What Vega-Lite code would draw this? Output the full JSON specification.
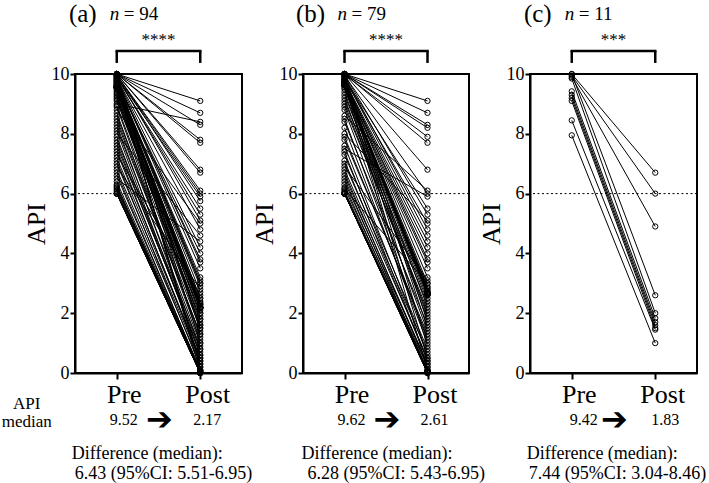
{
  "$schema": "https://vega.github.io/schema/vega-lite/v6.json",
  "background": "white",
  "padding": {"left": 0, "top": 0, "right": 0, "bottom": 0},
  "config": {
    "font": "Liberation Serif",
    "view": {"stroke": "black", "strokeWidth": 2},
    "axis": {"domainColor": "black", "domainWidth": 2, "tickColor": "black", "tickWidth": 2, "labelColor": "black", "titleColor": "black", "grid": false, "labelFont": "Liberation Serif", "titleFont": "Liberation Serif", "titleFontWeight": "normal"},
    "text": {"font": "Liberation Serif", "color": "black"},
    "concat": {"spacing": 61}
  },
  "bounds": "flush",
  "datasets": {
    "a": [
      {"id":1,"Pre":10,"Post":8.3},{"id":2,"Pre":10,"Post":9.1},{"id":3,"Pre":10,"Post":6.8},{"id":4,"Pre":10,"Post":8.7},{"id":5,"Pre":10,"Post":6.7},{"id":6,"Pre":10,"Post":1.4},{"id":7,"Pre":10,"Post":7.7},{"id":8,"Pre":10,"Post":7.8},
      {"id":9,"Pre":9.98,"Post":5.75},{"id":10,"Pre":9.97,"Post":6.1},{"id":11,"Pre":9.95,"Post":5.1},{"id":12,"Pre":9.95,"Post":6.0},{"id":13,"Pre":9.93,"Post":1.5},{"id":14,"Pre":9.9,"Post":5.9},{"id":15,"Pre":9.9,"Post":5.3},{"id":16,"Pre":9.88,"Post":5.5},
      {"id":17,"Pre":9.85,"Post":4.2},{"id":18,"Pre":9.85,"Post":4.8},{"id":19,"Pre":9.83,"Post":3.7},{"id":20,"Pre":9.8,"Post":1.0},{"id":21,"Pre":9.8,"Post":3.5},{"id":22,"Pre":9.78,"Post":0.03},{"id":23,"Pre":9.75,"Post":3.8},{"id":24,"Pre":9.75,"Post":4.0},
      {"id":25,"Pre":9.72,"Post":3.0},{"id":26,"Pre":9.7,"Post":3.2},{"id":27,"Pre":9.7,"Post":2.7},{"id":28,"Pre":9.68,"Post":3.1},{"id":29,"Pre":9.65,"Post":0.2},{"id":30,"Pre":9.65,"Post":3.0},{"id":31,"Pre":9.63,"Post":0.3},{"id":32,"Pre":9.62,"Post":2.9},
      {"id":33,"Pre":9.6,"Post":2.35},{"id":34,"Pre":9.6,"Post":2.5},{"id":35,"Pre":9.59,"Post":2.25},{"id":36,"Pre":9.58,"Post":2.5},{"id":37,"Pre":9.57,"Post":2.2},{"id":38,"Pre":9.57,"Post":2.4},{"id":39,"Pre":9.56,"Post":2.3},{"id":40,"Pre":9.56,"Post":2.3},
      {"id":41,"Pre":9.55,"Post":2.18},{"id":42,"Pre":9.55,"Post":2.2},{"id":43,"Pre":9.55,"Post":2.17},{"id":44,"Pre":9.54,"Post":2.2},{"id":45,"Pre":9.54,"Post":2.17},{"id":46,"Pre":9.54,"Post":2.2},{"id":47,"Pre":9.54,"Post":2.17},{"id":48,"Pre":9.5,"Post":2.17},
      {"id":49,"Pre":9.45,"Post":1.9},{"id":50,"Pre":9.4,"Post":2.1},{"id":51,"Pre":9.35,"Post":1.7},{"id":52,"Pre":9.3,"Post":2.0},{"id":53,"Pre":9.25,"Post":1.6},{"id":54,"Pre":9.2,"Post":2.0},{"id":55,"Pre":9.15,"Post":1.8},{"id":56,"Pre":9.1,"Post":1.8},
      {"id":57,"Pre":9.0,"Post":8.4},{"id":58,"Pre":8.95,"Post":1.6},{"id":59,"Pre":8.9,"Post":1.2},{"id":60,"Pre":8.8,"Post":5.0},{"id":61,"Pre":8.7,"Post":1.1},{"id":62,"Pre":8.6,"Post":1.5},{"id":63,"Pre":8.5,"Post":1.3},{"id":64,"Pre":8.4,"Post":1.3},
      {"id":65,"Pre":8.3,"Post":0.8},{"id":66,"Pre":8.2,"Post":1.0},{"id":67,"Pre":8.1,"Post":0.6},{"id":68,"Pre":8.0,"Post":4.6},{"id":69,"Pre":7.9,"Post":0.6},{"id":70,"Pre":7.8,"Post":0.9},{"id":71,"Pre":7.7,"Post":0.7},{"id":72,"Pre":7.6,"Post":0.8},
      {"id":73,"Pre":7.5,"Post":0.4},{"id":74,"Pre":7.4,"Post":0.5},{"id":75,"Pre":7.3,"Post":2.6},{"id":76,"Pre":7.2,"Post":0.5},{"id":77,"Pre":7.1,"Post":0.2},{"id":78,"Pre":7.0,"Post":0.4},{"id":79,"Pre":6.9,"Post":2.8},{"id":80,"Pre":6.8,"Post":0.3},
      {"id":81,"Pre":6.7,"Post":0.06},{"id":82,"Pre":6.6,"Post":0.1},{"id":83,"Pre":6.5,"Post":4.4},{"id":84,"Pre":6.4,"Post":0.1},{"id":85,"Pre":6.3,"Post":0.02},{"id":86,"Pre":6.25,"Post":0.08},{"id":87,"Pre":6.2,"Post":0.04},{"id":88,"Pre":6.15,"Post":0.05},
      {"id":89,"Pre":6.1,"Post":0},{"id":90,"Pre":6.05,"Post":0},{"id":91,"Pre":6.0,"Post":0},{"id":92,"Pre":6.0,"Post":0},{"id":93,"Pre":6.0,"Post":0},{"id":94,"Pre":6.0,"Post":0}
    ],
    "b": [
      {"id":1,"Pre":10,"Post":8.2},{"id":2,"Pre":10,"Post":9.1},{"id":3,"Pre":10,"Post":6.8},{"id":4,"Pre":10,"Post":8.7},{"id":5,"Pre":10,"Post":1.7},{"id":6,"Pre":10,"Post":8.3},{"id":7,"Pre":10,"Post":7.7},{"id":8,"Pre":9.98,"Post":7.9},
      {"id":9,"Pre":9.97,"Post":5.3},{"id":10,"Pre":9.95,"Post":6.0},{"id":11,"Pre":9.93,"Post":4.8},{"id":12,"Pre":9.9,"Post":0.9},{"id":13,"Pre":9.88,"Post":4.6},{"id":14,"Pre":9.85,"Post":5.5},{"id":15,"Pre":9.83,"Post":5.0},{"id":16,"Pre":9.8,"Post":1.5},
      {"id":17,"Pre":9.8,"Post":3.8},{"id":18,"Pre":9.78,"Post":4.4},{"id":19,"Pre":9.76,"Post":3.2},{"id":20,"Pre":9.75,"Post":4.2},{"id":21,"Pre":9.73,"Post":0.5},{"id":22,"Pre":9.72,"Post":4.0},{"id":23,"Pre":9.7,"Post":3.5},{"id":24,"Pre":9.7,"Post":3.7},
      {"id":25,"Pre":9.69,"Post":2.85},{"id":26,"Pre":9.68,"Post":3.0},{"id":27,"Pre":9.67,"Post":2.7},{"id":28,"Pre":9.66,"Post":0.1},{"id":29,"Pre":9.65,"Post":2.7},{"id":30,"Pre":9.65,"Post":2.9},{"id":31,"Pre":9.64,"Post":2.75},{"id":32,"Pre":9.64,"Post":2.8},
      {"id":33,"Pre":9.63,"Post":2.64},{"id":34,"Pre":9.63,"Post":2.68},{"id":35,"Pre":9.63,"Post":2.61},{"id":36,"Pre":9.62,"Post":2.66},{"id":37,"Pre":9.62,"Post":2.61},{"id":38,"Pre":9.62,"Post":2.65},{"id":39,"Pre":9.62,"Post":2.62},{"id":40,"Pre":9.62,"Post":2.63},
      {"id":41,"Pre":9.55,"Post":2.2},{"id":42,"Pre":9.5,"Post":2.5},{"id":43,"Pre":9.4,"Post":1.9},{"id":44,"Pre":9.3,"Post":2.4},{"id":45,"Pre":9.2,"Post":1.8},{"id":46,"Pre":9.1,"Post":2.3},{"id":47,"Pre":9.0,"Post":2.0},{"id":48,"Pre":8.9,"Post":2.1},
      {"id":49,"Pre":8.8,"Post":1.4},{"id":50,"Pre":8.6,"Post":6.1},{"id":51,"Pre":8.5,"Post":1.1},{"id":52,"Pre":8.4,"Post":1.6},{"id":53,"Pre":8.2,"Post":1.0},{"id":54,"Pre":8.0,"Post":5.1},{"id":55,"Pre":7.9,"Post":1.2},{"id":56,"Pre":7.8,"Post":1.3},
      {"id":57,"Pre":7.6,"Post":0.6},{"id":58,"Pre":7.5,"Post":5.9},{"id":59,"Pre":7.4,"Post":0.4},{"id":60,"Pre":7.3,"Post":0.8},{"id":61,"Pre":7.1,"Post":0.4},{"id":62,"Pre":7.0,"Post":0.7},{"id":63,"Pre":6.9,"Post":3.1},{"id":64,"Pre":6.8,"Post":0.5},
      {"id":65,"Pre":6.7,"Post":0.2},{"id":66,"Pre":6.6,"Post":0.3},{"id":67,"Pre":6.5,"Post":0.08},{"id":68,"Pre":6.4,"Post":0.3},{"id":69,"Pre":6.3,"Post":0.06},{"id":70,"Pre":6.2,"Post":0.2},{"id":71,"Pre":6.15,"Post":3.0},{"id":72,"Pre":6.1,"Post":0.1},
      {"id":73,"Pre":6.05,"Post":0.05},{"id":74,"Pre":6.0,"Post":0.04},{"id":75,"Pre":6.0,"Post":0.03},{"id":76,"Pre":6.0,"Post":0.02},{"id":77,"Pre":6.0,"Post":0},{"id":78,"Pre":6.0,"Post":0},{"id":79,"Pre":6.0,"Post":0}
    ],
    "c": [
      {"id":1,"Pre":10,"Post":6.7},{"id":2,"Pre":9.95,"Post":6.0},{"id":3,"Pre":9.9,"Post":4.9},{"id":4,"Pre":10,"Post":2.6},{"id":5,"Pre":9.85,"Post":2.0},{"id":6,"Pre":9.42,"Post":1.83},
      {"id":7,"Pre":9.3,"Post":1.7},{"id":8,"Pre":9.2,"Post":1.6},{"id":9,"Pre":9.1,"Post":1.5},{"id":10,"Pre":8.45,"Post":1.45},{"id":11,"Pre":7.95,"Post":1.0}
    ]
  },
  "hconcat": [
    {
      "width": 167, "height": 299,
      "layer": [
        {"data": {"name": "a"}, "transform": [{"fold": ["Pre", "Post"], "as": ["time", "api"]}],
         "mark": {"type": "line", "color": "black", "strokeWidth": 1},
         "encoding": {
           "x": {"field": "time", "type": "nominal", "scale": {"type": "point", "domain": ["Pre", "Post"], "padding": 0.5}, "axis": {"title": null, "labelAngle": 0, "labelFontSize": 26, "tickSize": 6, "labelOffset": 7, "labelPadding": 2}},
           "y": {"field": "api", "type": "quantitative", "scale": {"domain": [0, 10], "nice": false, "zero": false}, "axis": {"title": "API", "titleFontSize": 26, "values": [0, 2, 4, 6, 8, 10], "labelFontSize": 18, "tickSize": 5, "labelPadding": 1, "titlePadding": 2}},
           "detail": {"field": "id", "type": "nominal"}}},
        {"data": {"name": "a"}, "transform": [{"fold": ["Pre", "Post"], "as": ["time", "api"]}],
         "mark": {"type": "point", "filled": false, "color": "black", "size": 28, "strokeWidth": 1, "opacity": 1},
         "encoding": {"x": {"field": "time", "type": "nominal"}, "y": {"field": "api", "type": "quantitative"}}},
        {"data": {"values": [{}]}, "mark": {"type": "rule", "strokeDash": [2, 2.5], "color": "black", "strokeWidth": 1}, "encoding": {"y": {"datum": 6}}},
        {"data": {"values": [{}]}, "mark": {"type": "rule", "color": "black", "strokeWidth": 2.5, "strokeCap": "square"}, "encoding": {"x": {"datum": "Pre"}, "x2": {"datum": "Post"}, "y": {"datum": 10.77}}},
        {"data": {"values": [{}]}, "mark": {"type": "rule", "color": "black", "strokeWidth": 2.5}, "encoding": {"x": {"datum": "Pre"}, "y": {"datum": 10.37}, "y2": {"datum": 10.77}}},
        {"data": {"values": [{}]}, "mark": {"type": "rule", "color": "black", "strokeWidth": 2.5}, "encoding": {"x": {"datum": "Post"}, "y": {"datum": 10.37}, "y2": {"datum": 10.77}}},
        {"data": {"values": [{}]}, "mark": {"type": "text", "text": "****", "fontSize": 17, "baseline": "alphabetic"}, "encoding": {"y": {"datum": 10.97}}},
        {"data": {"values": [{}]}, "mark": {"type": "text", "text": "(a)", "fontSize": 25, "baseline": "alphabetic", "align": "center", "dx": -34}, "encoding": {"x": {"datum": "Pre"}, "y": {"datum": 11.74}}},
        {"data": {"values": [{}]}, "mark": {"type": "text", "text": "n", "fontSize": 19, "fontStyle": "italic", "baseline": "alphabetic", "align": "left", "dx": -7}, "encoding": {"x": {"datum": "Pre"}, "y": {"datum": 11.8}}},
        {"data": {"values": [{}]}, "mark": {"type": "text", "text": "= 94", "fontSize": 19, "baseline": "alphabetic", "align": "left", "dx": 7}, "encoding": {"x": {"datum": "Pre"}, "y": {"datum": 11.8}}},
        {"data": {"values": [{}]}, "mark": {"type": "text", "text": "API\nmedian", "lineBreak": "\n", "lineHeight": 18, "fontSize": 17, "baseline": "middle", "align": "center", "dx": -90}, "encoding": {"x": {"datum": "Pre"}, "y": {"datum": -1.04}}},
        {"data": {"values": [{}]}, "mark": {"type": "text", "text": "9.52", "fontSize": 16, "baseline": "middle", "align": "center", "dx": 7}, "encoding": {"x": {"datum": "Pre"}, "y": {"datum": -1.57}}},
        {"data": {"values": [{}]}, "mark": {"type": "text", "text": "➔", "font": "DejaVu Sans", "fontSize": 32, "baseline": "middle", "align": "center", "dx": 1}, "encoding": {"y": {"datum": -1.57}}},
        {"data": {"values": [{}]}, "mark": {"type": "text", "text": "2.17", "fontSize": 16, "baseline": "middle", "align": "center", "dx": 7}, "encoding": {"x": {"datum": "Post"}, "y": {"datum": -1.57}}},
        {"data": {"values": [{}]}, "mark": {"type": "text", "text": "Difference (median):", "fontSize": 18, "baseline": "middle", "align": "left", "dx": -45}, "encoding": {"x": {"datum": "Pre"}, "y": {"datum": -2.71}}},
        {"data": {"values": [{}]}, "mark": {"type": "text", "text": "6.43 (95%CI: 5.51-6.95)", "fontSize": 18, "baseline": "middle", "align": "left", "dx": -42}, "encoding": {"x": {"datum": "Pre"}, "y": {"datum": -3.38}}}
      ]
    },
    {
      "width": 166, "height": 299,
      "layer": [
        {"data": {"name": "b"}, "transform": [{"fold": ["Pre", "Post"], "as": ["time", "api"]}],
         "mark": {"type": "line", "color": "black", "strokeWidth": 1},
         "encoding": {
           "x": {"field": "time", "type": "nominal", "scale": {"type": "point", "domain": ["Pre", "Post"], "padding": 0.5}, "axis": {"title": null, "labelAngle": 0, "labelFontSize": 26, "tickSize": 6, "labelOffset": 7, "labelPadding": 2}},
           "y": {"field": "api", "type": "quantitative", "scale": {"domain": [0, 10], "nice": false, "zero": false}, "axis": {"title": "API", "titleFontSize": 26, "values": [0, 2, 4, 6, 8, 10], "labelFontSize": 18, "tickSize": 5, "labelPadding": 1, "titlePadding": 2}},
           "detail": {"field": "id", "type": "nominal"}}},
        {"data": {"name": "b"}, "transform": [{"fold": ["Pre", "Post"], "as": ["time", "api"]}],
         "mark": {"type": "point", "filled": false, "color": "black", "size": 28, "strokeWidth": 1, "opacity": 1},
         "encoding": {"x": {"field": "time", "type": "nominal"}, "y": {"field": "api", "type": "quantitative"}}},
        {"data": {"values": [{}]}, "mark": {"type": "rule", "strokeDash": [2, 2.5], "color": "black", "strokeWidth": 1}, "encoding": {"y": {"datum": 6}}},
        {"data": {"values": [{}]}, "mark": {"type": "rule", "color": "black", "strokeWidth": 2.5, "strokeCap": "square"}, "encoding": {"x": {"datum": "Pre"}, "x2": {"datum": "Post"}, "y": {"datum": 10.77}}},
        {"data": {"values": [{}]}, "mark": {"type": "rule", "color": "black", "strokeWidth": 2.5}, "encoding": {"x": {"datum": "Pre"}, "y": {"datum": 10.37}, "y2": {"datum": 10.77}}},
        {"data": {"values": [{}]}, "mark": {"type": "rule", "color": "black", "strokeWidth": 2.5}, "encoding": {"x": {"datum": "Post"}, "y": {"datum": 10.37}, "y2": {"datum": 10.77}}},
        {"data": {"values": [{}]}, "mark": {"type": "text", "text": "****", "fontSize": 17, "baseline": "alphabetic"}, "encoding": {"y": {"datum": 10.97}}},
        {"data": {"values": [{}]}, "mark": {"type": "text", "text": "(b)", "fontSize": 25, "baseline": "alphabetic", "align": "center", "dx": -34}, "encoding": {"x": {"datum": "Pre"}, "y": {"datum": 11.74}}},
        {"data": {"values": [{}]}, "mark": {"type": "text", "text": "n", "fontSize": 19, "fontStyle": "italic", "baseline": "alphabetic", "align": "left", "dx": -7}, "encoding": {"x": {"datum": "Pre"}, "y": {"datum": 11.8}}},
        {"data": {"values": [{}]}, "mark": {"type": "text", "text": "= 79", "fontSize": 19, "baseline": "alphabetic", "align": "left", "dx": 7}, "encoding": {"x": {"datum": "Pre"}, "y": {"datum": 11.8}}},
        {"data": {"values": [{}]}, "mark": {"type": "text", "text": "9.62", "fontSize": 16, "baseline": "middle", "align": "center", "dx": 7}, "encoding": {"x": {"datum": "Pre"}, "y": {"datum": -1.57}}},
        {"data": {"values": [{}]}, "mark": {"type": "text", "text": "➔", "font": "DejaVu Sans", "fontSize": 32, "baseline": "middle", "align": "center", "dx": 1}, "encoding": {"y": {"datum": -1.57}}},
        {"data": {"values": [{}]}, "mark": {"type": "text", "text": "2.61", "fontSize": 16, "baseline": "middle", "align": "center", "dx": 7}, "encoding": {"x": {"datum": "Post"}, "y": {"datum": -1.57}}},
        {"data": {"values": [{}]}, "mark": {"type": "text", "text": "Difference (median):", "fontSize": 18, "baseline": "middle", "align": "left", "dx": -43}, "encoding": {"x": {"datum": "Pre"}, "y": {"datum": -2.71}}},
        {"data": {"values": [{}]}, "mark": {"type": "text", "text": "6.28 (95%CI: 5.43-6.95)", "fontSize": 18, "baseline": "middle", "align": "left", "dx": -37}, "encoding": {"x": {"datum": "Pre"}, "y": {"datum": -3.38}}}
      ]
    },
    {
      "width": 167, "height": 299,
      "layer": [
        {"data": {"name": "c"}, "transform": [{"fold": ["Pre", "Post"], "as": ["time", "api"]}],
         "mark": {"type": "line", "color": "black", "strokeWidth": 1},
         "encoding": {
           "x": {"field": "time", "type": "nominal", "scale": {"type": "point", "domain": ["Pre", "Post"], "padding": 0.5}, "axis": {"title": null, "labelAngle": 0, "labelFontSize": 26, "tickSize": 6, "labelOffset": 7, "labelPadding": 2}},
           "y": {"field": "api", "type": "quantitative", "scale": {"domain": [0, 10], "nice": false, "zero": false}, "axis": {"title": "API", "titleFontSize": 26, "values": [0, 2, 4, 6, 8, 10], "labelFontSize": 18, "tickSize": 5, "labelPadding": 1, "titlePadding": 2}},
           "detail": {"field": "id", "type": "nominal"}}},
        {"data": {"name": "c"}, "transform": [{"fold": ["Pre", "Post"], "as": ["time", "api"]}],
         "mark": {"type": "point", "filled": false, "color": "black", "size": 28, "strokeWidth": 1, "opacity": 1},
         "encoding": {"x": {"field": "time", "type": "nominal"}, "y": {"field": "api", "type": "quantitative"}}},
        {"data": {"values": [{}]}, "mark": {"type": "rule", "strokeDash": [2, 2.5], "color": "black", "strokeWidth": 1}, "encoding": {"y": {"datum": 6}}},
        {"data": {"values": [{}]}, "mark": {"type": "rule", "color": "black", "strokeWidth": 2.5, "strokeCap": "square"}, "encoding": {"x": {"datum": "Pre"}, "x2": {"datum": "Post"}, "y": {"datum": 10.77}}},
        {"data": {"values": [{}]}, "mark": {"type": "rule", "color": "black", "strokeWidth": 2.5}, "encoding": {"x": {"datum": "Pre"}, "y": {"datum": 10.37}, "y2": {"datum": 10.77}}},
        {"data": {"values": [{}]}, "mark": {"type": "rule", "color": "black", "strokeWidth": 2.5}, "encoding": {"x": {"datum": "Post"}, "y": {"datum": 10.37}, "y2": {"datum": 10.77}}},
        {"data": {"values": [{}]}, "mark": {"type": "text", "text": "***", "fontSize": 17, "baseline": "alphabetic"}, "encoding": {"y": {"datum": 10.97}}},
        {"data": {"values": [{}]}, "mark": {"type": "text", "text": "(c)", "fontSize": 25, "baseline": "alphabetic", "align": "center", "dx": -34}, "encoding": {"x": {"datum": "Pre"}, "y": {"datum": 11.74}}},
        {"data": {"values": [{}]}, "mark": {"type": "text", "text": "n", "fontSize": 19, "fontStyle": "italic", "baseline": "alphabetic", "align": "left", "dx": -7}, "encoding": {"x": {"datum": "Pre"}, "y": {"datum": 11.8}}},
        {"data": {"values": [{}]}, "mark": {"type": "text", "text": "= 11", "fontSize": 19, "baseline": "alphabetic", "align": "left", "dx": 7}, "encoding": {"x": {"datum": "Pre"}, "y": {"datum": 11.8}}},
        {"data": {"values": [{}]}, "mark": {"type": "text", "text": "9.42", "fontSize": 16, "baseline": "middle", "align": "center", "dx": 12}, "encoding": {"x": {"datum": "Pre"}, "y": {"datum": -1.57}}},
        {"data": {"values": [{}]}, "mark": {"type": "text", "text": "➔", "font": "DejaVu Sans", "fontSize": 32, "baseline": "middle", "align": "center", "dx": 1}, "encoding": {"y": {"datum": -1.57}}},
        {"data": {"values": [{}]}, "mark": {"type": "text", "text": "1.83", "fontSize": 16, "baseline": "middle", "align": "center", "dx": 10}, "encoding": {"x": {"datum": "Post"}, "y": {"datum": -1.57}}},
        {"data": {"values": [{}]}, "mark": {"type": "text", "text": "Difference (median):", "fontSize": 18, "baseline": "middle", "align": "left", "dx": -45}, "encoding": {"x": {"datum": "Pre"}, "y": {"datum": -2.71}}},
        {"data": {"values": [{}]}, "mark": {"type": "text", "text": "7.44 (95%CI: 3.04-8.46)", "fontSize": 18, "baseline": "middle", "align": "left", "dx": -43}, "encoding": {"x": {"datum": "Pre"}, "y": {"datum": -3.38}}}
      ]
    }
  ]
}
